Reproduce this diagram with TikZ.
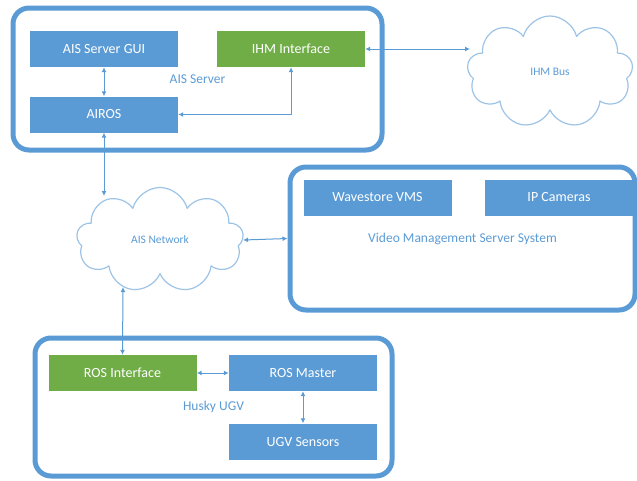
\documentclass[tikz,border=0pt]{standalone}
\usepackage{fontspec}
\setmainfont{Carlito}
\usetikzlibrary{arrows.meta,shapes.symbols}
\definecolor{boxblue}{HTML}{5B9BD5}
\definecolor{boxgreen}{HTML}{70AD47}
\definecolor{cloudblue}{HTML}{9DC3E6}

\begin{document}
\begin{tikzpicture}[line cap=round,line join=round,x=1pt,y=-1pt,
    container/.style={draw=boxblue, line width=5pt, rounded corners=16pt, text=boxblue, font=\fontsize{13.5}{16}\selectfont},
    unit/.style={fill=boxblue, text=white, minimum width=148pt, minimum height=36pt, font=\fontsize{14}{16}\selectfont},
    bridge/.style={unit, fill=boxgreen},
    net/.style={cloud, cloud puffs=9, cloud ignores aspect, draw=cloudblue, line width=1.2pt, text=boxblue, font=\fontsize{11.5}{13}\selectfont},
    link/.style={{Latex[length=5pt,width=5pt]}-{Latex[length=5pt,width=5pt]}, draw=boxblue, line width=1pt}]

    \useasboundingbox (0,0) rectangle (637,480);

    % Containers
    \draw (197.5,79) node[container, minimum width=369pt, minimum height=142pt] (server) {AIS Server};
    \draw (462.5,238.5) node[container, minimum width=345pt, minimum height=143pt] (vms) {Video Management Server System};
    \draw (213.5,407) node[container, minimum width=357pt, minimum height=138pt] (husky) {Husky UGV};

    % Clouds
    \draw (550,72) node[net, minimum width=166pt, minimum height=112pt] (bus) {IHM Bus};
    \draw (160,240) node[net, minimum width=167pt, minimum height=105pt] (network) {AIS Network};

    \draw (104,49) node[unit] (gui) {AIS Server GUI};
    \draw (291,49) node[bridge] (ihm) {IHM Interface};
    \draw (104,114.5) node[unit] (airos) {AIROS};
    \draw (377.5,197.5) node[unit] (wavestore) {Wavestore VMS};
    \draw (559,197.5) node[unit] (cameras) {IP Cameras};
    \draw (122.5,373) node[bridge] (rosif) {ROS Interface};
    \draw (303,373) node[unit] (master) {ROS Master};
    \draw (303,441.5) node[unit] (sensors) {UGV Sensors};

    \coordinate (busin) at (470,49);
    \coordinate (netin) at (104,196);
    \coordinate (netout) at (123,287);

    % Server links
    \draw[link] (gui) -- (airos);
    \draw[link] (airos.east) -| (ihm.south);
    \draw[link] (ihm.east) -- (busin);
    % Network links
    \draw[link] (airos.south) -- (netin);
    \draw[link] (network.east) -- (vms.west);
    \draw[link] (rosif.north) -- (netout);
    % UGV links
    \draw[link] (rosif) -- (master);
    \draw[link] (master) -- (sensors);
\end{tikzpicture}
\end{document}
